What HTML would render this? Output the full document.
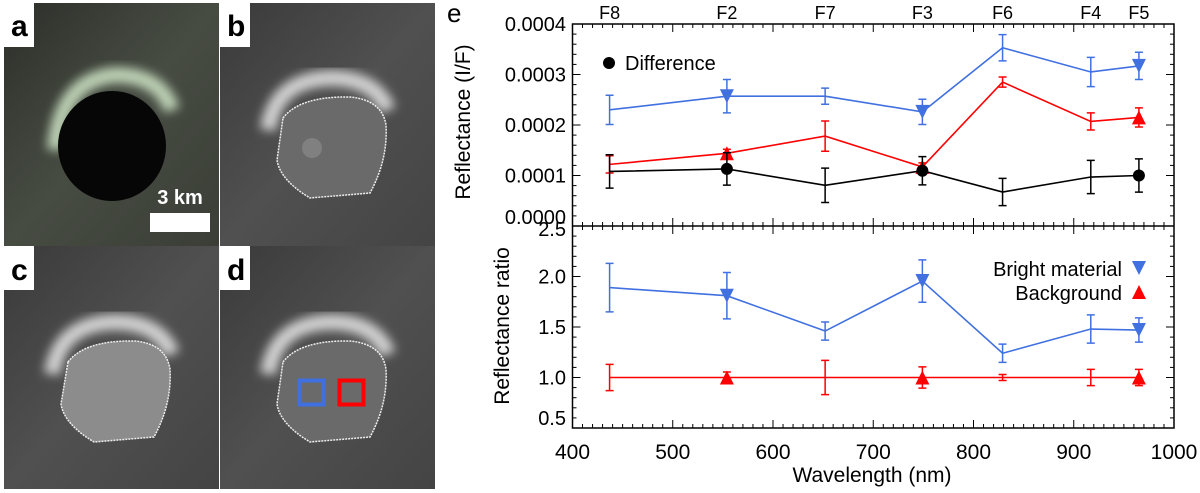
<!DOCTYPE html>
<html><head><meta charset="utf-8">
<style>
body{margin:0;background:#fff;width:1200px;height:493px;overflow:hidden;font-family:"Liberation Sans",Arial,sans-serif}
svg{position:absolute;left:0;top:0}
</style></head>
<body>
<svg width="1200" height="493" viewBox="0 0 1200 493">
<defs>
<filter id="blur" x="-20%" y="-20%" width="140%" height="140%"><feGaussianBlur stdDeviation="5"/></filter>
<linearGradient id="bgA" x1="0" y1="0" x2="1" y2="1"><stop offset="0" stop-color="#2c2f29"/><stop offset="0.5" stop-color="#474c43"/><stop offset="1" stop-color="#3a3e36"/></linearGradient>
<linearGradient id="bgG" x1="0" y1="0" x2="1" y2="1"><stop offset="0" stop-color="#3a3a3a"/><stop offset="0.5" stop-color="#505050"/><stop offset="1" stop-color="#444"/></linearGradient>
</defs>
<!-- panel a -->
<g>
<rect x="4" y="3" width="215" height="243" fill="url(#bgA)"/>
<path d="M55 150 Q60 80 115 75 Q160 75 172 110" fill="none" stroke="#bcd0b4" stroke-width="16" filter="url(#blur)"/>
<ellipse cx="112" cy="146" rx="54" ry="55" fill="#050605"/>
<rect x="150" y="213" width="60" height="19" fill="#fff"/>
<text x="180" y="204" font-size="20" font-weight="bold" fill="#fff" text-anchor="middle">3 km</text>
</g>
<!-- panel b -->
<g>
<rect x="220" y="3" width="215" height="243" fill="url(#bgG)"/>
<path d="M268 130 Q275 80 330 78 Q375 78 388 110" fill="none" stroke="#d0d0d0" stroke-width="16" filter="url(#blur)"/>
<path d="M283 118 Q300 96 350 97 Q382 100 386 125 Q388 160 370 193 L310 198 Q280 180 277 160 Z" fill="#6a6a6a" stroke="#eee" stroke-width="1.5" stroke-dasharray="2 1"/>
<circle cx="312" cy="148" r="10" fill="#8a8a8a" opacity="0.7"/>
</g>
<!-- panel c -->
<g>
<rect x="4" y="246" width="215" height="243" fill="url(#bgG)"/>
<path d="M52 374 Q59 324 114 322 Q159 322 172 354" fill="none" stroke="#d0d0d0" stroke-width="16" filter="url(#blur)"/>
<path d="M68 362 Q85 340 135 341 Q166 344 170 369 Q172 404 154 437 L94 442 Q64 424 61 404 Z" fill="#8c8c8c" stroke="#eee" stroke-width="1.5" stroke-dasharray="2 1"/>
</g>
<!-- panel d -->
<g>
<rect x="220" y="246" width="215" height="243" fill="url(#bgG)"/>
<path d="M268 374 Q275 324 330 322 Q375 322 388 354" fill="none" stroke="#d0d0d0" stroke-width="16" filter="url(#blur)"/>
<path d="M283 362 Q300 340 350 341 Q382 344 386 369 Q388 404 370 437 L310 442 Q280 424 277 404 Z" fill="#6a6a6a" stroke="#eee" stroke-width="1.5" stroke-dasharray="2 1"/>
<rect x="299.5" y="380.5" width="24" height="24" fill="none" stroke="#3f6fe0" stroke-width="4"/>
<rect x="339.5" y="380.5" width="24" height="24" fill="none" stroke="#f00" stroke-width="4"/>
</g>
<g font-size="30" font-weight="bold">
<rect x="4" y="3" width="30" height="44" fill="#fff"/><text x="11" y="36">a</text>
<rect x="220" y="3" width="30" height="44" fill="#fff"/><text x="227" y="36">b</text>
<rect x="4" y="246" width="30" height="44" fill="#fff"/><text x="11" y="280">c</text>
<rect x="220" y="246" width="30" height="44" fill="#fff"/><text x="227" y="280">d</text>
</g>
<g id="chart"></g>
</svg>
<script>
const filters=["F8","F2","F7","F3","F6","F4","F5"];
const wavelengths=[437,554,652,749,829,917,965];
const brightRefl=[0.000230,0.000257,0.000257,0.000226,0.000353,0.000305,0.000317];
const brightReflErr=[0.000029,0.000033,0.000016,0.000025,0.000026,0.000029,0.000027];
const bgRefl=[0.000122,0.000144,0.000178,0.000117,0.000285,0.000207,0.000215];
const bgReflErr=[0.000017,0.000008,0.000030,0.000008,0.000010,0.000017,0.000019];
const diffRefl=[0.000108,0.000113,0.0000806,0.0001095,0.0000673,0.000097,0.000100];
const diffReflErr=[0.000033,0.000032,0.000034,0.000028,0.000027,0.000033,0.000033];
const brightRatio=[1.89,1.81,1.46,1.955,1.24,1.48,1.47];
const brightRatioErr=[0.24,0.23,0.09,0.21,0.09,0.14,0.12];
const bgRatio=[1,1,1,1,1,1,1];
const bgRatioErr=[0.13,0.055,0.17,0.105,0.03,0.08,0.08];
const markerIdx=[1,3,6];
const xTicks=[400,500,600,700,800,900,1000];
const topTicks=[0,0.0001,0.0002,0.0003,0.0004];
const topTickLabels=["0.0000","0.0001","0.0002","0.0003","0.0004"];
const botTicks=[0.5,1.0,1.5,2.0,2.5];
const botTickLabels=["0.5","1.0","1.5","2.0","2.5"];

const NS="http://www.w3.org/2000/svg";
const g=document.getElementById('chart');
const L=572.5,R=1174,T=24,M=226,B=428;
const xs=v=>L+(v-400)/600*(R-L);
const ysT=v=>M-(v/0.0004)*(M-T);
const ysB=v=>B-(v-0.5)/2*(B-M);
function el(tag,attrs,parent){const e=document.createElementNS(NS,tag);for(const k in attrs)e.setAttribute(k,attrs[k]);(parent||g).appendChild(e);return e;}
function txt(s,x,y,attrs){const e=el('text',Object.assign({x:x,y:y,'font-size':19},attrs||{}));e.textContent=s;return e;}

let f=el('rect',{x:L,y:T,width:R-L,height:B-T,fill:'none',stroke:'#000','stroke-width':1.5});


el('line',{x1:L,x2:R,y1:M,y2:M,stroke:'#000','stroke-width':1.5});
for(let v=400;v<=1000;v+=10){const major=v%100===0;const len=major?8:4;const x=xs(v);
 [T,M,B].forEach((yy,i)=>{ if(i!==2) el('line',{x1:x,x2:x,y1:yy,y2:yy+len,stroke:'#000','stroke-width':1});
   if(i!==0) el('line',{x1:x,x2:x,y1:yy,y2:yy-len,stroke:'#000','stroke-width':1});});}
xTicks.forEach(v=>{const t=txt(String(v),xs(v),459,{'text-anchor':'middle','font-size':21});
 
 });
for(let v=0;v<=0.0004+1e-9;v+=0.00002){const major=Math.round(v/0.00002)%5===0;const len=major?8:4;const y=ysT(v);
 el('line',{x1:L,x2:L+len,y1:y,y2:y,stroke:'#000'});el('line',{x1:R,x2:R-len,y1:y,y2:y,stroke:'#000'});}
topTicks.forEach((v,i)=>{const t=txt(topTickLabels[i],566,ysT(v)+(i===0?-2:7),{'text-anchor':'end','font-size':20});
 
 });
for(let v=0.5;v<=2.5+1e-9;v+=0.1){const major=Math.abs(v*2-Math.round(v*2))<1e-6;const len=major?8:4;const y=ysB(v);
 el('line',{x1:L,x2:L+len,y1:y,y2:y,stroke:'#000'});el('line',{x1:R,x2:R-len,y1:y,y2:y,stroke:'#000'});}
botTicks.forEach((v,i)=>{const t=txt(botTickLabels[i],566,ysB(v)+(i===0?-3:(i===4?10:7)),{'text-anchor':'end','font-size':20});
 
 });
filters.forEach((f,i)=>{const t=txt(f,xs(wavelengths[i]),19,{'text-anchor':'middle','font-size':18});
 
 });
let e=txt('e',447,22,{'font-size':26});


let ya=txt('Reflectance (I/F)',0,0,{'text-anchor':'middle','font-size':21,transform:'translate(470,122) rotate(-90)'});


let yb=txt('Reflectance ratio',0,0,{'text-anchor':'middle','font-size':21,transform:'translate(509,326) rotate(-90)'});


let xa=txt('Wavelength (nm)',872,482,{'text-anchor':'middle','font-size':21});



function tri(x,y,down,color){const s=7;const p=down?`${x-s},${y-s} ${x+s},${y-s} ${x},${y+s}`:`${x-s},${y+s} ${x+s},${y+s} ${x},${y-s}`;return el('polygon',{points:p,fill:color});}
function series(vals,errs,ys,color,marker,name){
 const pts=vals.map((v,i)=>xs(wavelengths[i])+','+ys(v)).join(' ');
 const pl=el('polyline',{points:pts,fill:'none',stroke:color,'stroke-width':1.6});
 
 
 vals.forEach((v,i)=>{const x=xs(wavelengths[i]);const y1=ys(v+errs[i]),y2=ys(v-errs[i]);
  const eb=el('path',{d:`M${x},${y1}V${y2}M${x-4},${y1}H${x+4}M${x-4},${y2}H${x+4}`,stroke:color,'stroke-width':1.5,fill:'none'});
  
  
  if(markerIdx.includes(i)){let m;
   if(marker==='circle') m=el('circle',{cx:x,cy:ys(v),r:6,fill:color});
   else m=tri(x,ys(v),marker==='down',color);
   
   }
 });}
series(brightRefl,brightReflErr,ysT,'#4170e0','down','bright-reflectance');
series(bgRefl,bgReflErr,ysT,'#f00','up','background-reflectance');
series(diffRefl,diffReflErr,ysT,'#000','circle','difference-reflectance');
series(brightRatio,brightRatioErr,ysB,'#4170e0','down','bright-ratio');
series(bgRatio,bgRatioErr,ysB,'#f00','up','background-ratio');
let lc=el('circle',{cx:609,cy:63,r:6,fill:'#000'});


let lt=txt('Difference',625,70,{'font-size':20});


let b1=txt('Bright material',1122,276,{'text-anchor':'end','font-size':20});


tri(1139,268,true,'#4170e0');
let b2=txt('Background',1122,300,{'text-anchor':'end','font-size':20});


tri(1139,292,false,'#f00');
</script>
</body></html>
